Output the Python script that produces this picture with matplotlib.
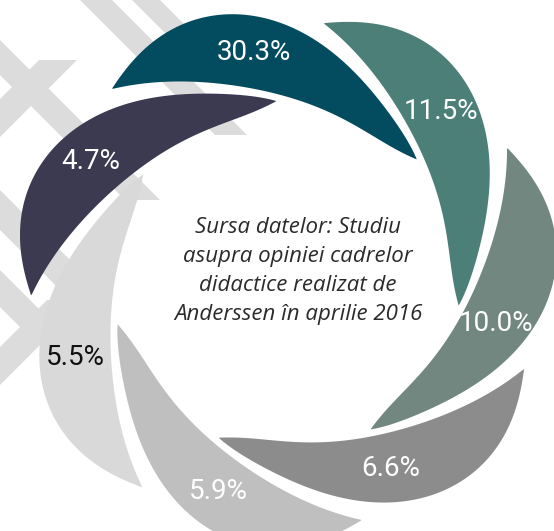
import numpy as np
import matplotlib.pyplot as plt
from matplotlib.patches import Polygon

# share of respondents per answer, one petal each (clockwise from top-left)
values = [30.3, 11.5, 10.0, 6.6, 5.9, 5.5, 4.7]
petal_colors = ['#034b5e', '#4b7f77', '#71877f', '#8c8c8c', '#bfbfbf', '#d9d9d9', '#3b3a50']
label_colors = ['white', 'white', 'white', 'white', 'white', '#111111', 'white']
source_lines = ['Sursa datelor: Studiu',
                'asupra opiniei cadrelor',
                'didactice realizat de',
                'Anderssen în aprilie 2016']

W, H = 554, 531
CX, CY = 286, 276          # centre of the swirl, in pixels
START0 = 132.8             # angle where the first petal starts (deg)
SPAN = 91.0                # angular length of one petal
LABEL_T = [0.38, 0.38, 0.47, 0.44, 0.38, 0.38, 0.38]   # where along a petal its label sits

# radial profile of a petal along its length (t = 0 blunt start, t = 1 tip)
t_out = [0, 0.08, 0.17, 0.28, 0.40, 0.54, 0.71, 0.86, 1.0]
r_out = [255, 266, 270, 269, 263, 240, 207, 190, 175]
t_in = [0, 0.10, 0.25, 0.40, 0.55, 0.72, 0.88, 1.0]
r_in = [255, 233, 205, 186, 174, 166, 166, 175]

p_out = np.polyfit(t_out, r_out, 5)
p_in = np.polyfit(t_in, r_in, 5)


def to_xy(ang_deg, r):
    a = np.radians(ang_deg)
    return CX + r * np.cos(a), CY - r * np.sin(a)


def petal(start):
    t = np.linspace(0, 1, 200)
    ang = start - t * SPAN
    xo, yo = to_xy(ang, np.polyval(p_out, t))
    xi, yi = to_xy(ang[::-1], np.polyval(p_in, t[::-1]))
    return np.column_stack([np.r_[xo, xi], np.r_[yo, yi]])


def band(c0, c1, y0, y1, kind):
    # diagonal stripe: '\' follows x = c + y, '/' follows x = c - y
    s = 1 if kind == '\\' else -1
    return [(c0 + s * y0, y0), (c1 + s * y0, y0), (c1 + s * y1, y1), (c0 + s * y1, y1)]


fig = plt.figure(figsize=(W / 100, H / 100), dpi=100)
ax = fig.add_axes([0, 0, 1, 1])
ax.set_xlim(0, W)
ax.set_ylim(H, 0)
ax.axis('off')

# light chevrons in the background
bg = '#dcdcdc'
stripes = [
    band(80, 112, -10, 135, '\\'),
    band(132, 160, -10, 70, '\\'),
    band(-75, -40, -10, 200, '\\'),
    band(99, 137, 60, 200, '/'),
    band(-230, -190, 150, 300, '\\'),
    band(-307, -270, 200, 327, '\\'),
    band(347, 385, 300, 460, '/'),
]
for pts in stripes:
    ax.add_patch(Polygon(pts, closed=True, fc=bg, ec='none', zorder=1))

# petals and their labels
for i, (v, col, lc) in enumerate(zip(values, petal_colors, label_colors)):
    start = START0 - i * 360 / len(values)
    ax.add_patch(Polygon(petal(start), closed=True, fc=col, ec='none', zorder=2))
    tl = LABEL_T[i]
    rl = 0.5 * (np.polyval(p_out, tl) + np.polyval(p_in, tl))
    lx, ly = to_xy(start - tl * SPAN, rl)
    ax.text(lx, ly, f'{v:.1f}%', color=lc, fontsize=20,
            family=['Roboto', 'DejaVu Sans'], ha='center', va='center', zorder=3)

ax.text(298, 271, '\n'.join(source_lines), ha='center', va='center',
        fontsize=16, style='italic', color='#2b2b2b', linespacing=1.5,
        family=['Open Sans', 'DejaVu Sans'], zorder=3)

fig.savefig('out.png', dpi=100)
